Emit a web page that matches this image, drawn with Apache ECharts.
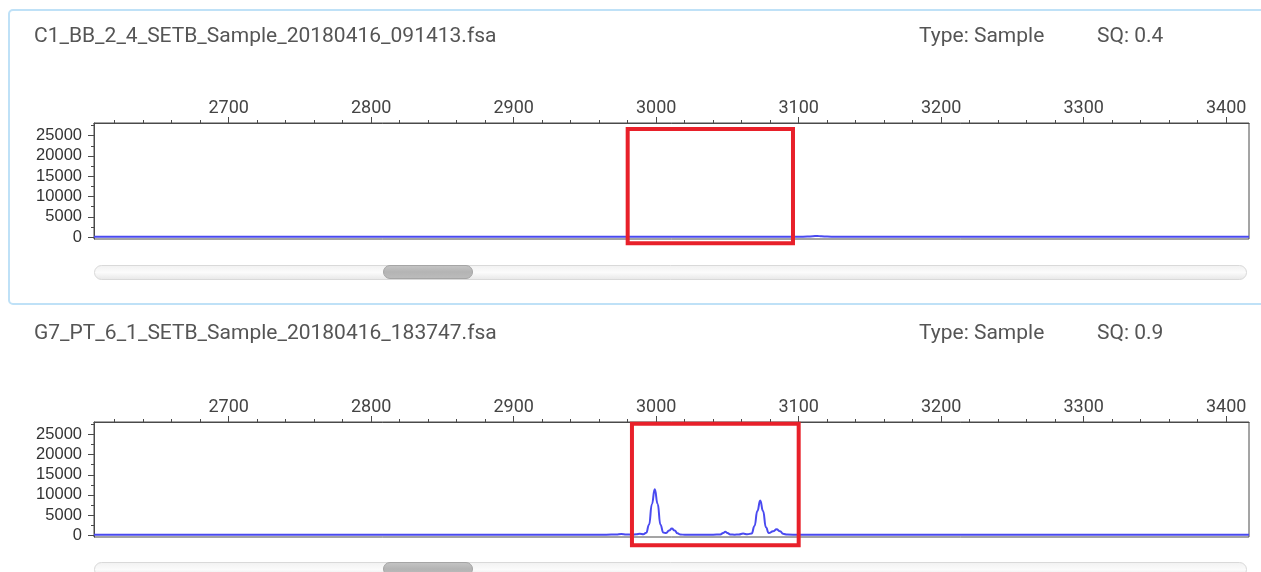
<!DOCTYPE html>
<html>
<head>
<meta charset="utf-8">
<title>Electropherogram comparison</title>
<script src="https://cdn.jsdelivr.net/npm/echarts@6/dist/echarts.min.js"></script>
<style>
  html, body { margin: 0; padding: 0; background: #ffffff; }
  #chart { width: 1261px; height: 572px; }
</style>
</head>
<body>
<div id="chart"></div>
<script>
// Header info for each sample file
const sampleNames = ['C1_BB_2_4_SETB_Sample_20180416_091413.fsa', 'G7_PT_6_1_SETB_Sample_20180416_183747.fsa'];
const sampleTypes = ['Type: Sample', 'Type: Sample'];
const sampleSQ = ['SQ: 0.4', 'SQ: 0.9'];

// Size axis (bp): visible window and tick values
const sizeRange = [2605.5, 3416];
const sizeTicks = [2700, 2800, 2900, 3000, 3100, 3200, 3300, 3400];
const sizeMinorTicks = [2620, 2640, 2660, 2680, 2720, 2740, 2760, 2780, 2820, 2840, 2860, 2880,
  2920, 2940, 2960, 2980, 3020, 3040, 3060, 3080, 3120, 3140, 3160, 3180,
  3220, 3240, 3260, 3280, 3320, 3340, 3360, 3380];

// Signal axis (RFU)
const rfuRange = [-450, 28100];
const rfuTicks = [0, 5000, 10000, 15000, 20000, 25000];
const rfuMinorTicks = [2500, 7500, 12500, 17500, 22500, 27500];

// C1 trace: size (bp) and signal (RFU)
const c1Size = [2605.5, 2630, 2660, 2690, 2720, 2750, 2780, 2810, 2840, 2870, 2900, 2930, 2960, 2985, 3005,
  3030, 3055, 3080, 3100, 3106, 3110, 3113, 3116, 3120, 3126, 3150, 3180, 3210, 3240, 3270, 3300, 3330, 3360, 3390, 3416];
const c1Rfu = [110, 105, 100, 110, 105, 100, 95, 105, 110, 100, 105, 110, 100, 95, 105,
  100, 110, 105, 110, 140, 230, 300, 220, 140, 110, 105, 100, 95, 100, 105, 100, 95, 100, 105, 100];

// G7 trace: size (bp) and signal (RFU)
const g7Size = [2605.5, 2640, 2680, 2720, 2760, 2800, 2840, 2880, 2920, 2950, 2965, 2972, 2975.5, 2979, 2983,
  2986, 2988.5, 2991, 2993, 2995, 2997, 2999, 3001, 3003, 3005, 3007, 3009, 3011, 3013, 3015, 3017, 3020,
  3030, 3040, 3045, 3047, 3048.5, 3050, 3052, 3055, 3058, 3061, 3064, 3067, 3069, 3071, 3073, 3075, 3077,
  3079, 3082, 3084.5, 3087, 3089, 3092, 3100, 3120, 3160, 3200, 3240, 3280, 3320, 3360, 3400, 3416];
const g7Rfu = [120, 115, 120, 110, 115, 120, 115, 110, 120, 115, 120, 180, 320, 170, 130,
  220, 330, 240, 600, 2600, 7700, 11400, 7800, 2600, 650, 520, 1150, 1650, 1150, 450, 170, 110,
  120, 130, 170, 560, 850, 540, 170, 130, 170, 400, 210, 420, 2300, 6000, 8600, 6000, 2000,
  520, 950, 1500, 950, 350, 140, 120, 115, 110, 120, 115, 110, 120, 115, 110, 115];

// Highlighted windows: [size from, size to, RFU low, RFU high]
const c1Window = [2980, 3096, -1500, 26650];
const g7Window = [2983, 3100, -2500, 27650];

const chart = echarts.init(document.getElementById('chart'));

const axisColor = '#4a4a4a';
const textGray = '#555555';

const panels = [
  { name: sampleNames[0], type: sampleTypes[0], sq: sampleSQ[0], size: c1Size, rfu: c1Rfu, win: c1Window,
    gridTop: 123, gridHeight: 116, headerTop: 26, scrollTop: 265 },
  { name: sampleNames[1], type: sampleTypes[1], sq: sampleSQ[1], size: g7Size, rfu: g7Rfu, win: g7Window,
    gridTop: 422, gridHeight: 115, headerTop: 323, scrollTop: 562 }
];

const option = {
  animation: false,
  backgroundColor: '#ffffff',
  title: [],
  grid: [],
  xAxis: [],
  yAxis: [],
  series: [],
  graphic: []
};

const headerText = { color: textGray, fontFamily: 'Roboto', fontSize: 21, fontWeight: 'normal' };
const plain = v => String(v);

// Selected-panel frame
option.graphic.push({
  type: 'rect', z: -10, silent: true,
  shape: { x: 9, y: 10, width: 1280, height: 294, r: 4 },
  style: { fill: 'none', stroke: '#bfe1f7', lineWidth: 2 }
});

panels.forEach((p, i) => {
  option.title.push({ text: p.name, left: 34, top: p.headerTop, padding: 0, textStyle: headerText });
  option.title.push({ text: p.type, left: 919, top: p.headerTop, padding: 0, textStyle: headerText });
  option.title.push({ text: p.sq, left: 1097, top: p.headerTop, padding: 0, textStyle: headerText });

  option.grid.push({
    left: 94, top: p.gridTop, width: 1155, height: p.gridHeight,
    show: true, borderColor: axisColor, borderWidth: 1, backgroundColor: 'transparent'
  });

  const xBase = { type: 'value', gridIndex: i, position: 'top', min: sizeRange[0], max: sizeRange[1], splitLine: { show: false } };
  option.xAxis.push(Object.assign({}, xBase, {
    axisLine: { show: true, onZero: false, lineStyle: { color: axisColor, width: 1 } },
    axisTick: { show: true, inside: false, length: 6, customValues: sizeTicks, lineStyle: { color: axisColor } },
    axisLabel: { show: true, customValues: sizeTicks, formatter: plain, margin: 6, color: '#444', fontFamily: 'Roboto', fontSize: 18 }
  }));
  option.xAxis.push(Object.assign({}, xBase, {
    axisLine: { show: false, onZero: false },
    axisTick: { show: true, inside: false, length: 3, customValues: sizeMinorTicks, lineStyle: { color: axisColor } },
    axisLabel: { show: false }
  }));

  const yBase = { type: 'value', gridIndex: i, position: 'left', min: rfuRange[0], max: rfuRange[1], splitLine: { show: false } };
  option.yAxis.push(Object.assign({}, yBase, {
    axisLine: { show: true, onZero: false, lineStyle: { color: axisColor, width: 1 } },
    axisTick: { show: true, inside: false, length: 6, customValues: rfuTicks, lineStyle: { color: axisColor } },
    axisLabel: { show: true, customValues: rfuTicks, formatter: plain, margin: 12, color: '#333', fontFamily: 'Liberation Sans', fontSize: 16.5 }
  }));
  option.yAxis.push(Object.assign({}, yBase, {
    axisLine: { show: false, onZero: false },
    axisTick: { show: true, inside: false, length: 3, customValues: rfuMinorTicks, lineStyle: { color: axisColor } },
    axisLabel: { show: false }
  }));

  // Signal trace
  option.series.push({
    type: 'line', xAxisIndex: 2 * i, yAxisIndex: 2 * i, silent: true,
    data: p.size.map((s, k) => [s, p.rfu[k]]),
    showSymbol: false, smooth: 0.5, smoothMonotone: 'x', clip: true,
    lineStyle: { color: '#4a4af0', width: 2 }, z: 3
  });

  // Highlighted size window
  option.series.push({
    type: 'custom', xAxisIndex: 2 * i, yAxisIndex: 2 * i, silent: true, clip: false, z: 5,
    data: [p.win],
    encode: { x: [0, 1], y: [2, 3] },
    renderItem: (params, api) => {
      const a = api.coord([api.value(0), api.value(3)]);
      const b = api.coord([api.value(1), api.value(2)]);
      return {
        type: 'rect',
        shape: { x: a[0], y: a[1], width: b[0] - a[0], height: b[1] - a[1] },
        style: { fill: 'none', stroke: '#e8202a', lineWidth: 4 }
      };
    }
  });

  // Horizontal scrollbar under each plot
  option.graphic.push({
    type: 'rect', silent: true,
    shape: { x: 94.5, y: p.scrollTop + 0.5, width: 1152, height: 14, r: 7 },
    style: {
      fill: new echarts.graphic.LinearGradient(0, 0, 0, 1, [
        { offset: 0, color: '#f1f1f1' }, { offset: 0.5, color: '#fbfbfb' }, { offset: 1, color: '#e6e6e6' }
      ]),
      stroke: '#d9d9d9', lineWidth: 1
    }
  });
  option.graphic.push({
    type: 'rect', silent: true,
    shape: { x: 383.5, y: p.scrollTop + 0.5, width: 89, height: 13, r: 6.5 },
    style: {
      fill: new echarts.graphic.LinearGradient(0, 0, 0, 1, [
        { offset: 0, color: '#c6c6c6' }, { offset: 0.5, color: '#b4b4b4' }, { offset: 1, color: '#bcbcbc' }
      ]),
      stroke: '#a5a5a5', lineWidth: 1
    }
  });
});

chart.setOption(option);
</script>
</body>
</html>
